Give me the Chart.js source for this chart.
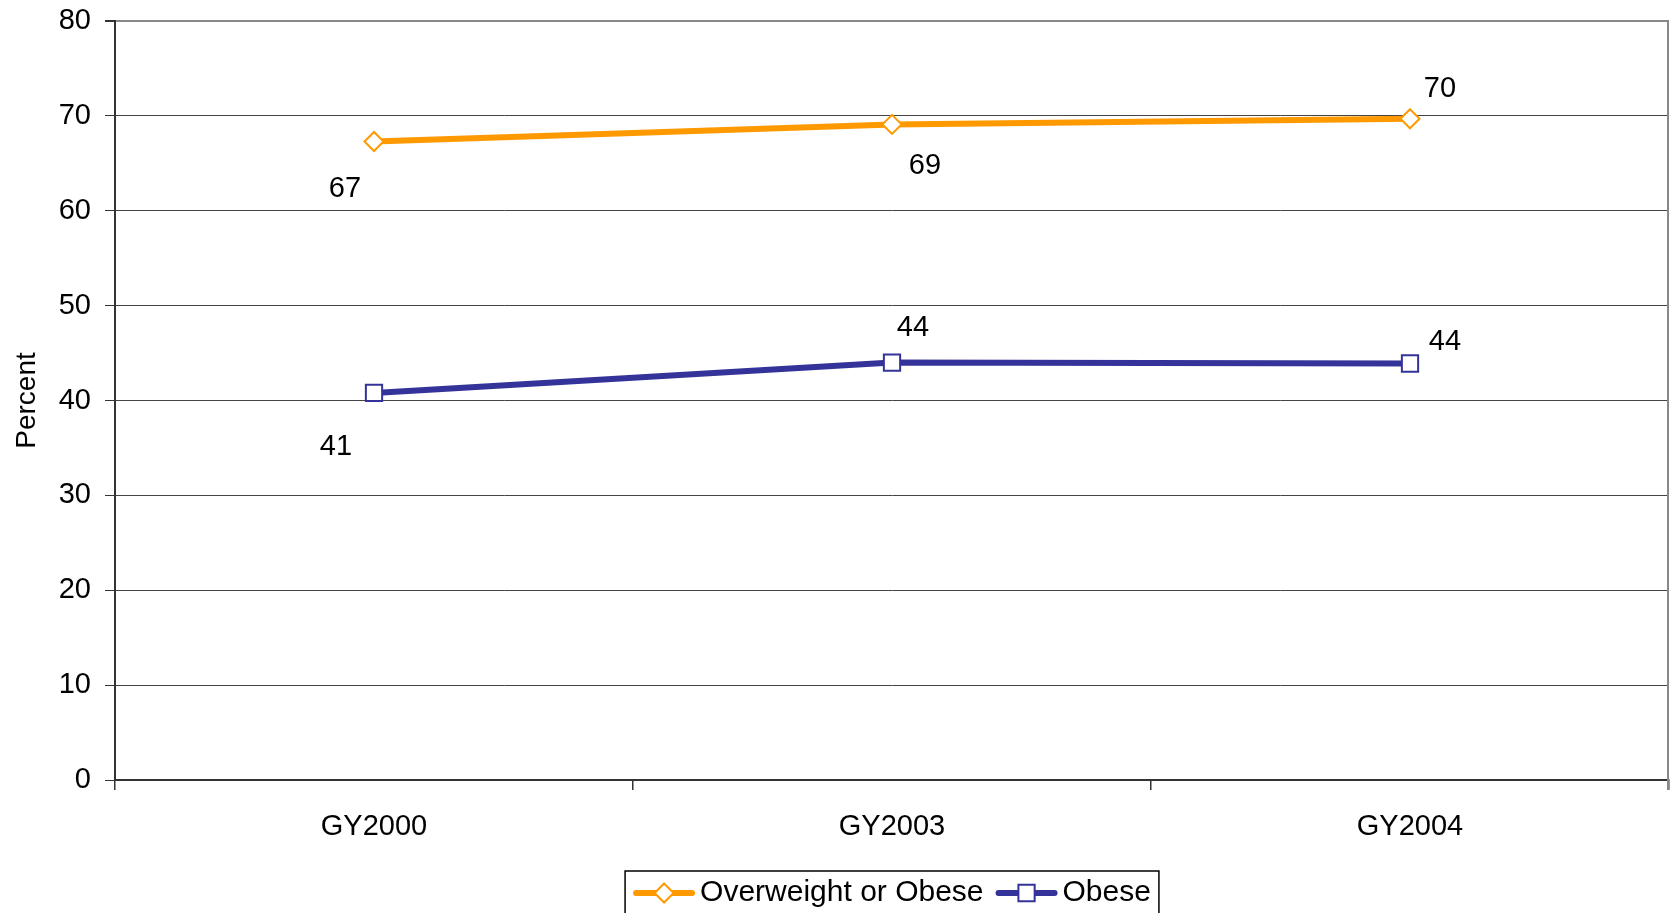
<!DOCTYPE html>
<html>
<head>
<meta charset="utf-8">
<script src="https://cdn.jsdelivr.net/npm/chart.js@4/dist/chart.umd.min.js"></script>
<style>
  html, body { margin: 0; padding: 0; background: #fff; overflow: hidden; }
  .wrap-chart { width: 1671px; height: 913px; position: relative; }
  .wrap-chart canvas { display: block; }
</style>
</head>
<body>
<div class="wrap-chart"><canvas></canvas></div>
<script>
const categories = ['GY2000', 'GY2003', 'GY2004'];
const overweightOrObese = [67.3, 69.1, 69.7];
const obese = [40.8, 44.0, 43.9];
const yTicks = [0, 10, 20, 30, 40, 50, 60, 70, 80];

const FONT = 'Arial, "Liberation Sans", sans-serif';
const ORANGE = '#FF9900';
const BLUE = '#333399';

// label offsets from each point, like the excel chart
const labelOffsets = [
    [[-29, 48], [33, 42], [30, -30]],
    [[-38, 54], [21, -35], [35, -21]]
];

const dataLabels = {
    id: 'dataLabels',
    afterDatasetsDraw(chart) {
        const ctx = chart.ctx;
        ctx.save();
        ctx.font = '29px ' + FONT;
        ctx.fillStyle = '#000';
        ctx.textAlign = 'center';
        ctx.textBaseline = 'middle';
        chart.data.datasets.forEach((ds, i) => {
            chart.getDatasetMeta(i).data.forEach((pt, j) => {
                const off = labelOffsets[i][j];
                ctx.fillText(String(Math.round(ds.data[j])), pt.x + off[0], pt.y + off[1]);
            });
        });
        ctx.restore();
    }
};

function marker(ctx, style, x, y, r, color) {
    ctx.save();
    ctx.fillStyle = '#fff';
    ctx.strokeStyle = color;
    ctx.lineWidth = 2;
    ctx.beginPath();
    if (style === 'rectRot') {
        ctx.moveTo(x, y - r); ctx.lineTo(x + r, y); ctx.lineTo(x, y + r); ctx.lineTo(x - r, y);
        ctx.closePath();
    } else {
        const s = r * Math.SQRT1_2;
        ctx.rect(x - s, y - s, 2 * s, 2 * s);
    }
    ctx.fill();
    ctx.stroke();
    ctx.restore();
}

const frameAndLegend = {
    id: 'frameAndLegend',
    afterDraw(chart) {
        const ctx = chart.ctx;
        const area = chart.chartArea;
        ctx.save();
        // right border of plot area
        ctx.strokeStyle = '#888';
        ctx.lineWidth = 2;
        ctx.beginPath();
        ctx.moveTo(area.right - 1, area.top);
        ctx.lineTo(area.right - 1, area.bottom + 10);
        ctx.stroke();

        // legend
        ctx.font = '30px ' + FONT;
        const items = chart.data.datasets.map(ds => ({
            text: ds.label, color: ds.borderColor, style: ds.pointStyle, r: ds.pointRadius,
            w: ctx.measureText(ds.label).width
        }));
        const lineLen = 62, gapIn = 5, gapOut = 12, pad = 8;
        let total = pad * 2;
        items.forEach((it, k) => { total += lineLen + gapIn + it.w + (k ? gapOut : 0); });
        const cx = (area.left + area.right) / 2;
        const boxL = cx - total / 2, boxT = 871, cy = 893;
        ctx.strokeStyle = '#000';
        ctx.lineWidth = 1.5;
        ctx.strokeRect(boxL, boxT, total, 60);
        let x = boxL + pad;
        items.forEach((it, k) => {
            if (k) x += gapOut;
            ctx.strokeStyle = it.color;
            ctx.lineWidth = 6;
            ctx.lineCap = 'round';
            ctx.beginPath();
            ctx.moveTo(x + 3, cy);
            ctx.lineTo(x + lineLen - 3, cy);
            ctx.stroke();
            marker(ctx, it.style, x + lineLen / 2, cy, it.r, it.color);
            x += lineLen + gapIn;
            ctx.fillStyle = '#000';
            ctx.textAlign = 'left';
            ctx.textBaseline = 'middle';
            ctx.fillText(it.text, x, cy);
            x += it.w;
        });
        ctx.restore();
    }
};

const ctx = document.querySelector('.wrap-chart canvas').getContext('2d');
const chart = new Chart(ctx, {
    type: 'line',
    data: {
        labels: categories,
        datasets: [{
            label: 'Overweight or Obese',
            data: overweightOrObese,
            borderColor: ORANGE,
            backgroundColor: '#fff',
            borderWidth: 6,
            pointStyle: 'rectRot',
            pointRadius: 9.5,
            pointBorderWidth: 2,
            pointBackgroundColor: '#fff',
            pointBorderColor: ORANGE,
            tension: 0
        }, {
            label: 'Obese',
            data: obese,
            borderColor: BLUE,
            backgroundColor: '#fff',
            borderWidth: 6,
            pointStyle: 'rect',
            pointRadius: 11.5,
            pointBorderWidth: 2,
            pointBackgroundColor: '#fff',
            pointBorderColor: BLUE,
            tension: 0
        }]
    },
    options: {
        responsive: true,
        maintainAspectRatio: false,
        animation: false,
        layout: { autoPadding: false, padding: { top: 21, right: 2, left: 0, bottom: 0 } },
        plugins: {
            legend: { display: false },
            tooltip: { enabled: false }
        },
        scales: {
            x: {
                offset: true,
                afterFit(scale) {
                    scale.height = 133;
                    scale.paddingLeft = 0;
                    scale.paddingRight = 0;
                },
                grid: {
                    offset: true,
                    drawOnChartArea: false,
                    drawTicks: true,
                    tickLength: 10,
                    color: '#333',
                    lineWidth: 1.5
                },
                border: { color: '#333', width: 2 },
                ticks: { color: '#000', font: { family: FONT, size: 29 }, padding: 20, maxRotation: 0 }
            },
            y: {
                min: 0,
                max: 80,
                afterFit(scale) {
                    scale.width = 115;
                    scale.paddingTop = 0;
                    scale.paddingBottom = 0;
                },
                afterBuildTicks(scale) { scale.ticks = yTicks.map(v => ({ value: v })); },
                grid: {
                    color: c => (c.tick && c.tick.value === 80) ? '#888' : '#444',
                    lineWidth: c => (c.tick && c.tick.value === 80) ? 2 : 1,
                    tickLength: 10,
                    tickColor: '#333'
                },
                border: { color: '#333', width: 2 },
                ticks: { color: '#000', font: { family: FONT, size: 29 }, padding: 14 },
                title: {
                    display: true,
                    text: 'Percent',
                    color: '#000',
                    font: { family: FONT, size: 28 },
                    padding: { top: 10, bottom: 0 }
                }
            }
        }
    },
    plugins: [dataLabels, frameAndLegend]
});
</script>
</body>
</html>
